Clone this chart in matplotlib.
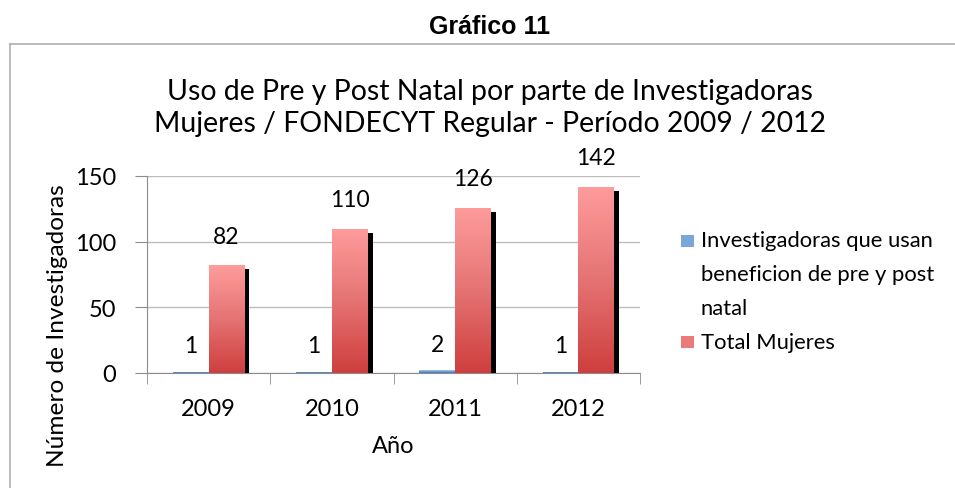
import matplotlib
matplotlib.use("Agg")
import matplotlib.pyplot as plt
import numpy as np
from matplotlib.colors import LinearSegmentedColormap
import matplotlib.transforms as mtransforms
from matplotlib.lines import Line2D
from matplotlib.patches import Rectangle

years = ["2009", "2010", "2011", "2012"]
usan = [1, 1, 2, 1]
total = [82, 110, 126, 142]
series_names = ["Investigadoras que usan\nbeneficion de pre y post\nnatal", "Total Mujeres"]

FONT = ["Lato", "DejaVu Sans"]
plt.rcParams['font.family'] = FONT

fig = plt.figure(figsize=(9.55, 4.89), dpi=100)
ax = fig.add_axes([147/955, 1-374/489, (640-147)/955, (374-177)/489])

x = np.arange(len(years))
w = 0.29
red_cmap = LinearSegmentedColormap.from_list("r", ["#CF3E3E", "#E57373", "#FF9C9C"])
blue_cmap = LinearSegmentedColormap.from_list("b", ["#3F73B5", "#6E9DD8", "#A9C8EE"])
grad = np.linspace(0, 1, 256).reshape(-1, 1)

shadow_tr = mtransforms.offset_copy(ax.transData, fig=fig, x=5, y=-4, units='dots')

def gradient_bars(xs, vals, cmap):
    bars = ax.bar(xs, vals, width=w, color='none', edgecolor='none', zorder=3)
    ax.bar(xs, vals, width=w, color='black', edgecolor='none', zorder=2, transform=shadow_tr)
    for b in bars:
        x0, y0 = b.get_x(), b.get_y()
        x1, y1 = x0 + b.get_width(), y0 + b.get_height()
        im = ax.imshow(grad, extent=[x0, x1, y0, y1], origin='lower', cmap=cmap,
                       aspect='auto', zorder=3)
        im.set_clip_path(b)
    return bars

bb = gradient_bars(x - w/2, usan, blue_cmap)
rb = gradient_bars(x + w/2, total, red_cmap)

LBL = 16.5
for xi, v in zip(x - w/2, usan):
    ax.annotate(str(v), (xi, v), xytext=(0, 26), textcoords='offset pixels',
                ha='center', va='center', fontsize=LBL, color='black', zorder=5)
for xi, v in zip(x + w/2, total):
    ax.annotate(str(v), (xi, v), xytext=(0, 29), textcoords='offset pixels',
                ha='center', va='center', fontsize=LBL, color='black', zorder=5,
                annotation_clip=False)

ax.set_xlim(-0.5, 3.5)
ax.set_ylim(0, 150)
ax.set_yticks([0, 50, 100, 150])
ax.yaxis.grid(True, color='#BDBDBD', linewidth=1)
ax.set_axisbelow(True)
for s in ['top', 'right']:
    ax.spines[s].set_visible(False)
ax.spines['left'].set_color('#8C8C8C')
ax.spines['bottom'].set_color('#8C8C8C')
ax.set_xticks(x)
ax.set_xticklabels(years)
ax.set_xticks(np.arange(-0.5, 4.0, 1.0), minor=True)
ax.tick_params(axis='x', which='major', length=0, pad=18, labelsize=17)
ax.tick_params(axis='x', which='minor', length=8, color='#8C8C8C', direction='out')
ax.tick_params(axis='y', length=9, color='#8C8C8C', pad=13, labelsize=17)
ax.set_xlabel("Año", fontsize=17, va='center')
ax.xaxis.set_label_coords(0.5, (374-447)/197, transform=ax.transAxes)
ax.set_ylabel("Número de Investigadoras", fontsize=17.6, va='center')
ax.yaxis.set_label_coords((58-147)/493, (374-326)/197, transform=ax.transAxes)

fig.text(490/955, 1-27/489, "Gráfico 11", ha='center', va='center', fontsize=18,
         fontweight='bold', family=["Liberation Sans", "DejaVu Sans"])
fig.text(490/955, 1-108/489,
         "Uso de Pre y Post Natal por parte de Investigadoras\nMujeres / FONDECYT Regular - Período 2009 / 2012",
         ha='center', va='center', fontsize=20.4, linespacing=1.3)

# chart frame
fig.add_artist(Line2D([10/955, 10/955], [0, 1-45/489], color='#B0B0B0', lw=1.2, transform=fig.transFigure))
fig.add_artist(Line2D([10/955, 1], [1-45/489, 1-45/489], color='#B0B0B0', lw=1.2, transform=fig.transFigure))

# legend
def legend_patch(y, cmap):
    r = Rectangle((681/955, 1-(y+6)/489), 13/955, 12/489, transform=fig.transFigure,
                  facecolor=cmap(0.6), edgecolor='none')
    fig.add_artist(r)
legend_patch(242, blue_cmap)
legend_patch(343, red_cmap)
fig.text(701/955, 1-275/489, series_names[0], ha='left', va='center', fontsize=15.8,
         linespacing=1.9)
fig.text(701/955, 1-343/489, series_names[1], ha='left', va='center', fontsize=15.8)

fig.savefig("out.png", dpi=100)
